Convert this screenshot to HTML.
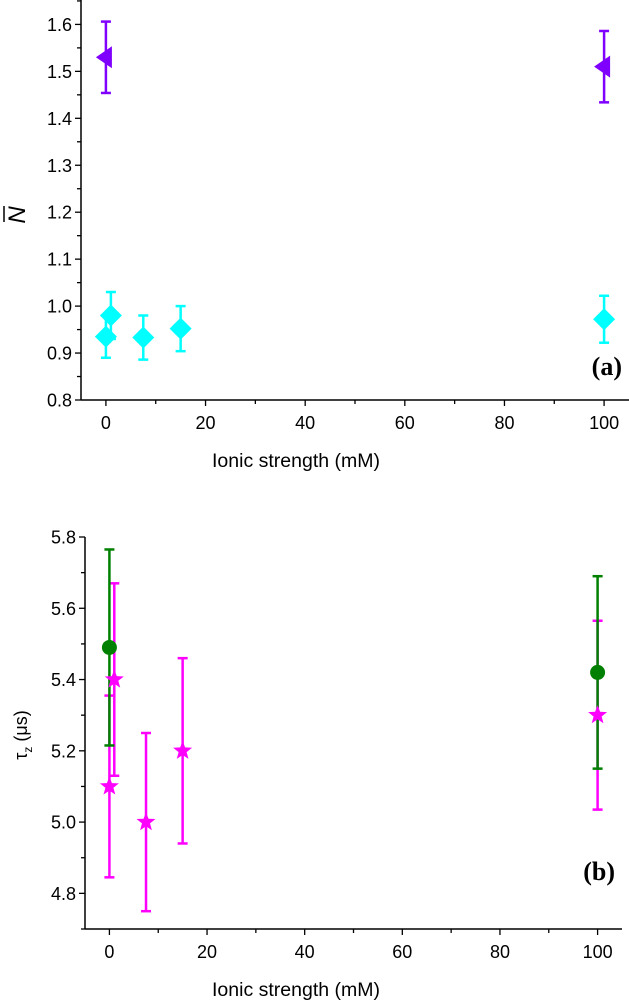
<!DOCTYPE html>
<html><head><meta charset="utf-8"><style>
body{margin:0;background:#fff}
svg{display:block;font-family:"Liberation Sans",Arial,sans-serif}
</style></head><body>
<svg id="chart" width="629" height="1000" viewBox="0 0 629 1000">
<g id="pa"></g>
<g id="pb"></g>
</svg>
<script>
// Panel (a)
const aTrianglesX = [0, 100];
const aTrianglesY = [1.53, 1.51];
const aTrianglesErr = [0.076, 0.076];
const aDiamondsX = [0, 1, 7.5, 15, 100];
const aDiamondsY = [0.935, 0.98, 0.933, 0.952, 0.972];
const aDiamondsErr = [0.045, 0.05, 0.047, 0.048, 0.05];
const aYTicks = ["0.8","0.9","1.0","1.1","1.2","1.3","1.4","1.5","1.6"];
const xTicks = ["0","20","40","60","80","100"];
// Panel (b)
const bCirclesX = [0, 100];
const bCirclesY = [5.49, 5.42];
const bCirclesErr = [0.275, 0.27];
const bStarsX = [0, 1, 7.5, 15, 100];
const bStarsY = [5.1, 5.4, 5.0, 5.2, 5.3];
const bStarsErr = [0.255, 0.27, 0.25, 0.26, 0.265];
const bYTicks = ["4.8","5.0","5.2","5.4","5.6","5.8"];

const NS = "http://www.w3.org/2000/svg";
function mk(parent, tag, attrs, text){
  const e = document.createElementNS(NS, tag);
  for (const k in attrs) e.setAttribute(k, attrs[k]);
  if (text !== undefined) e.textContent = text;
  parent.appendChild(e); return e;
}
function panel(g, cfg){
  const sx = v => cfg.x0 + (v - cfg.xmin) / (cfg.xmax - cfg.xmin) * (cfg.x1 - cfg.x0);
  const sy = v => cfg.y0 - (v - cfg.ymin) / (cfg.ymax - cfg.ymin) * (cfg.y0 - cfg.y1);
  const ax = mk(g, "g", {});
  
  
  mk(ax, "line", {x1:cfg.x0, y1:cfg.y0, x2:cfg.x1, y2:cfg.y0, stroke:"#000", "stroke-width":1.5});
  mk(ax, "line", {x1:cfg.x0, y1:cfg.y0, x2:cfg.x0, y2:cfg.y1, stroke:"#000", "stroke-width":1.5});
  for (let v = 0; v <= 100; v += 10){
    const major = v % 20 === 0;
    mk(ax, "line", {x1:sx(v), y1:cfg.y0, x2:sx(v), y2:cfg.y0 + (major?6:4), stroke:"#000", "stroke-width":1.3});
  }
  xTicks.forEach(t => {
    const tl = mk(ax, "text", {x:sx(+t), y:cfg.y0 + 29, "text-anchor":"middle", "font-size":18}, t);
    
    
  });
  const step = (+cfg.yt[1] - +cfg.yt[0]) / 2;
  for (let v = cfg.ymin; v <= cfg.ymax + 1e-9; v += step){
    const vv = Math.round(v*1000)/1000;
    const major = cfg.yt.some(t => Math.abs(+t - vv) < 1e-6);
    mk(ax, "line", {x1:cfg.x0, y1:sy(vv), x2:cfg.x0 - (major?6:4), y2:sy(vv), stroke:"#000", "stroke-width":1.3});
  }
  cfg.yt.forEach(t => {
    const tl = mk(ax, "text", {x:cfg.x0 - 9, y:sy(+t) + 6.5, "text-anchor":"end", "font-size":18}, t);
    
    
  });
  const xt = mk(ax, "text", {x:296, y:cfg.y0 + 67, "text-anchor":"middle", "font-size":19.5}, "Ionic strength (mM)");
  
  
  return {sx, sy};
}
function errbar(g, x, y, e, s, color){
  const px = s.sx(x);
  mk(g, "line", {x1:px, y1:s.sy(y-e), x2:px, y2:s.sy(y+e), stroke:color, "stroke-width":2.5});
  mk(g, "line", {x1:px-5, y1:s.sy(y-e), x2:px+5, y2:s.sy(y-e), stroke:color, "stroke-width":2.5});
  mk(g, "line", {x1:px-5, y1:s.sy(y+e), x2:px+5, y2:s.sy(y+e), stroke:color, "stroke-width":2.5});
}
function star(cx, cy, R){
  let p = [];
  for (let i = 0; i < 10; i++){
    const r = i % 2 ? R*0.42 : R;
    const a = -Math.PI/2 + i*Math.PI/5;
    p.push((cx + r*Math.cos(a)).toFixed(1) + "," + (cy + r*Math.sin(a)).toFixed(1));
  }
  return p.join(" ");
}

// Panel a
const ga = document.getElementById("pa");
const sa = panel(ga, {x0:81, x1:629, y0:400, y1:0, xmin:-5, xmax:105, ymin:0.8, ymax:1.652, yt:aYTicks});
aDiamondsX.forEach((x, i) => {
  const g = mk(ga, "g", {});
  
  
  errbar(g, x, aDiamondsY[i], aDiamondsErr[i], sa, "#00ffff");
  const cx = sa.sx(x), cy = sa.sy(aDiamondsY[i]);
  mk(g, "polygon", {points:`${cx},${cy-11} ${cx+11},${cy} ${cx},${cy+11} ${cx-11},${cy}`, fill:"#00ffff"});
});
aTrianglesX.forEach((x, i) => {
  const g = mk(ga, "g", {});
  
  
  errbar(g, x, aTrianglesY[i], aTrianglesErr[i], sa, "#8000ff");
  const cx = sa.sx(x), cy = sa.sy(aTrianglesY[i]);
  mk(g, "polygon", {points:`${cx-10},${cy} ${cx+6},${cy-11} ${cx+6},${cy+11}`, fill:"#8000ff"});
});
const ya = mk(ga, "text", {x:0, y:0, transform:"translate(25,215) rotate(-90)", "text-anchor":"middle", "font-size":24, "font-style":"italic"}, "N");


mk(ga, "line", {x1:4, y1:206, x2:4, y2:222, stroke:"#000", "stroke-width":1.5});
const la = mk(ga, "text", {x:622, y:375, "text-anchor":"end", "font-size":26, "font-weight":"bold", "font-family":"Liberation Serif,serif"}, "(a)");



// Panel b
const gb = document.getElementById("pb");
const sb = panel(gb, {x0:85, x1:622, y0:929, y1:537, xmin:-5, xmax:105, ymin:4.7, ymax:5.8, yt:bYTicks});
bStarsX.forEach((x, i) => {
  const g = mk(gb, "g", {});
  
  
  errbar(g, x, bStarsY[i], bStarsErr[i], sb, "#ff00ff");
});
bCirclesX.forEach((x, i) => {
  const g = mk(gb, "g", {});
  
  
  errbar(g, x, bCirclesY[i], bCirclesErr[i], sb, "#008000");
});
bStarsX.forEach((x, i) => {
  const s = mk(gb, "polygon", {points:star(sb.sx(x), sb.sy(bStarsY[i]), 10), fill:"#ff00ff"});
  
  
});
bCirclesX.forEach((x, i) => {
  const c = mk(gb, "circle", {cx:sb.sx(x), cy:sb.sy(bCirclesY[i]), r:7.5, fill:"#008000"});
  
  
});
const yb = mk(gb, "text", {x:0, y:0, transform:"translate(27,735) rotate(-90)", "text-anchor":"middle", "font-size":18}, "");


mk(yb, "tspan", {}, "τ");
mk(yb, "tspan", {"font-size":12, dy:5}, "z");
mk(yb, "tspan", {dy:-5}, " (μs)");
const lb = mk(gb, "text", {x:615, y:880, "text-anchor":"end", "font-size":26, "font-weight":"bold", "font-family":"Liberation Serif,serif"}, "(b)");


</script>
</body></html>
